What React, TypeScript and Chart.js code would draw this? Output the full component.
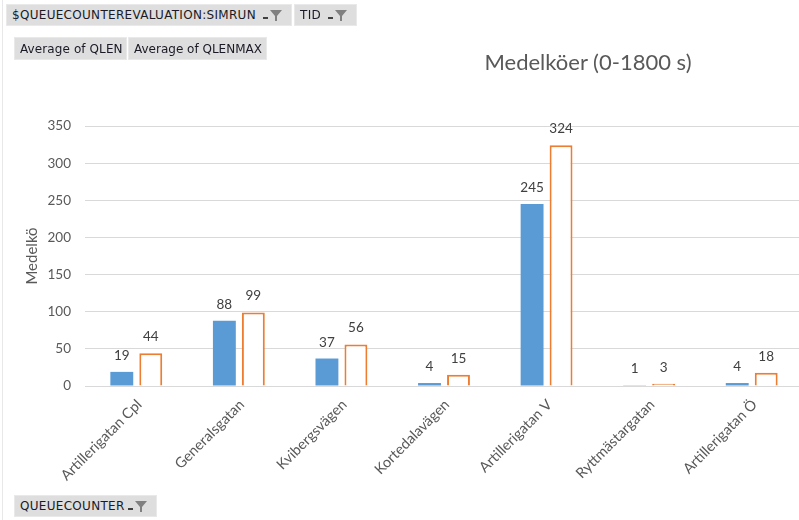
import React, { useEffect, useRef } from "react";
import { Chart, registerables } from "chart.js";

Chart.register(...registerables);

const categories = [
  "Artillerigatan Cpl",
  "Generalsgatan",
  "Kvibergsvägen",
  "Kortedalavägen",
  "Artillerigatan V",
  "Ryttmästargatan",
  "Artillerigatan Ö",
];
const qlen = [19, 88, 37, 4, 245, 1, 4];
const qlenMax = [44, 99, 56, 15, 324, 3, 18];
const seriesNames = ["Average of QLEN", "Average of QLENMAX"];
const chartTitle = "Medelköer (0-1800 s)";
const yAxisTitle = "Medelkö";
const yMin = 0;
const yMax = 350;
const yStep = 50;
const filterFields = ["$QUEUECOUNTEREVALUATION:SIMRUN", "TID"];
const axisField = "QUEUECOUNTER";

const FONT = "Lato, 'Open Sans', sans-serif";
const BTN_FONT = "'DejaVu Sans', Verdana, sans-serif";

const dataLabels = {
  id: "dataLabels",
  afterDatasetsDraw(chart: any) {
    const ctx = chart.ctx;
    ctx.save();
    ctx.font = `13.5px ${FONT}`;
    ctx.fillStyle = "#404040";
    ctx.textAlign = "center";
    ctx.textBaseline = "alphabetic";
    chart.data.datasets.forEach((ds: any, i: number) => {
      const meta = chart.getDatasetMeta(i);
      meta.data.forEach((el: any, j: number) => {
        ctx.fillText(String(ds.data[j]), el.x, el.y - 12);
      });
    });
    ctx.restore();
  },
};

function FilterIcon() {
  return (
    <svg width="22" height="14" style={{ display: "block" }}>
      <rect x="0" y="9" width="5" height="2" fill="#404040" />
      <polygon points="7,2 19,2 14,8 14,13 12,13 12,8" fill="#808080" />
    </svg>
  );
}

function FieldButton(props: {
  label: string;
  left: number;
  top: number;
  width: number;
  height: number;
  icon?: boolean;
  spacing?: number;
}) {
  const { label, left, top, width, height, icon, spacing } = props;
  return (
    <div
      style={{
        position: "absolute",
        left,
        top,
        width,
        height,
        boxSizing: "border-box",
        background: "#dedede",
        border: "1px solid #e9e9e9",
        display: "flex",
        alignItems: "center",
        paddingLeft: 5,
        fontFamily: BTN_FONT,
        fontSize: 12,
        letterSpacing: spacing === undefined ? 0.3 : spacing,
        color: "#1a1a26",
        whiteSpace: "nowrap",
        overflow: "hidden",
      }}
    >
      <span>{label}</span>
      {icon ? (
        <span style={{ marginLeft: "auto", marginRight: 6 }}>
          <FilterIcon />
        </span>
      ) : null}
    </div>
  );
}

export default function App() {
  const canvasRef = useRef<HTMLCanvasElement | null>(null);

  useEffect(() => {
    if (!canvasRef.current) return;
    const chart = new Chart(canvasRef.current, {
      type: "bar",
      data: {
        labels: categories,
        datasets: [
          {
            label: seriesNames[0],
            data: qlen,
            backgroundColor: "#5b9bd5",
            borderWidth: 0,
            barPercentage: 0.79,
            categoryPercentage: 0.565,
          },
          {
            label: seriesNames[1],
            data: qlenMax,
            backgroundColor: "#ffffff",
            borderColor: "#ed7d31",
            borderWidth: 2,
            barPercentage: 0.79,
            categoryPercentage: 0.565,
          },
        ],
      },
      options: {
        responsive: false,
        animation: false,
        layout: { padding: { top: 126, left: 0, right: 7, bottom: 0 } },
        plugins: {
          legend: { display: false },
          title: { display: false },
          tooltip: { enabled: false },
        },
        scales: {
          x: {
            grid: { display: false },
            border: { display: false },
            ticks: {
              minRotation: 45,
              maxRotation: 45,
              autoSkip: false,
              padding: 2,
              labelOffset: 3,
              color: "#595959",
              font: { family: FONT, size: 14.5 },
            },
            afterFit(scale: any) {
              scale.height = 134;
            },
          },
          y: {
            min: yMin,
            max: yMax,
            ticks: {
              stepSize: yStep,
              padding: 14,
              color: "#595959",
              font: { family: FONT, size: 13.5 },
            },
            grid: { color: "#d9d9d9", drawTicks: false, lineWidth: 1 },
            border: { display: false },
            title: {
              display: true,
              text: yAxisTitle,
              color: "#595959",
              font: { family: FONT, size: 15 },
              padding: { top: 23, bottom: 0 },
            },
            afterFit(scale: any) {
              scale.width = 85;
            },
          },
        },
      },
      plugins: [dataLabels],
    } as any);
    return () => chart.destroy();
  }, []);

  return (
    <div
      style={{
        position: "fixed",
        left: 0,
        top: 0,
        width: 799,
        height: 520,
        overflow: "hidden",
        background: "#ffffff",
      }}
    >
      <canvas
        ref={canvasRef}
        width={810}
        height={520}
        style={{ position: "absolute", left: 0, top: 0, width: 810, height: 520 }}
      />
      <div
        style={{
          position: "absolute",
          left: 2,
          top: 0,
          width: 1,
          height: 520,
          background: "#e8e8e8",
        }}
      />
      <div
        style={{
          position: "absolute",
          left: 388,
          top: 49,
          width: 400,
          textAlign: "center",
          fontFamily: FONT,
          fontSize: 22,
          lineHeight: "26px",
          color: "#595959",
        }}
      >
        {chartTitle}
      </div>
      <FieldButton label={filterFields[0]} left={6} top={4} width={286} height={22} icon />
      <FieldButton label={filterFields[1]} left={294} top={4} width={63} height={22} icon />
      <FieldButton label={seriesNames[0]} left={14} top={37} width={113} height={23} spacing={0.1} />
      <FieldButton label={seriesNames[1]} left={128} top={37} width={139} height={23} spacing={0} />
      <FieldButton label={axisField} left={14} top={495} width={143} height={22} icon />
    </div>
  );
}
